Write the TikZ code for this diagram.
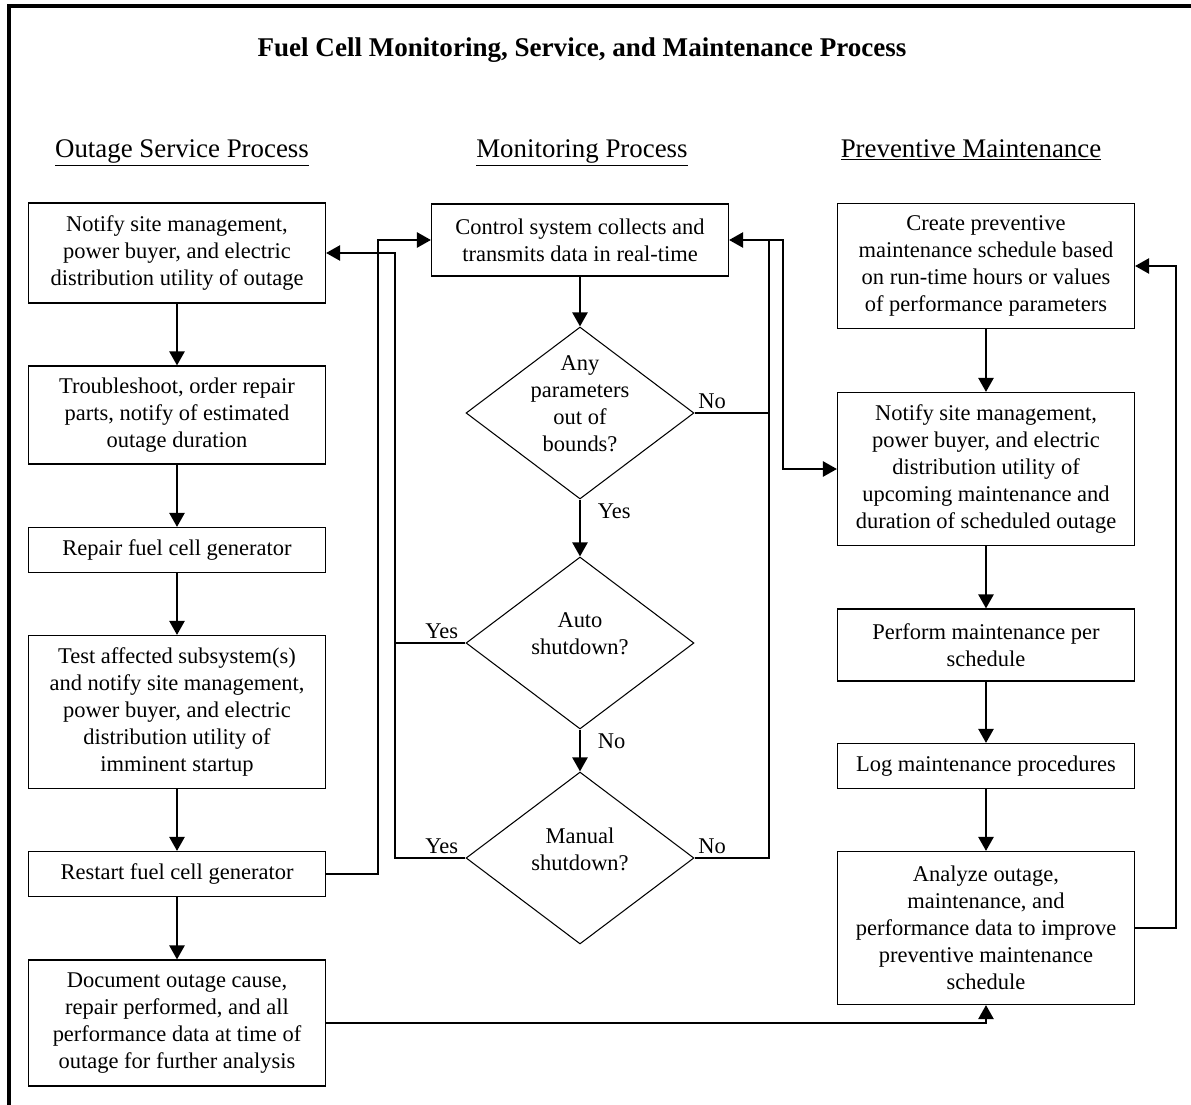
\documentclass[tikz,border=0pt]{standalone}
\usepackage{fontspec}
\setmainfont{Liberation Serif}
\usetikzlibrary{shapes.geometric, arrows.meta, positioning, calc}
\newcommand{\boxfont}{\fontsize{12.8}{15.3}\selectfont}

\begin{document}
\begin{tikzpicture}[
    x=0.02cm, y=-0.02cm,
    >={Triangle[length=8pt, width=8.5pt]},
    procbox/.style={rectangle, draw=black, line width=0.6pt, minimum width=5.94cm,
                    minimum height=#1, inner sep=2pt, align=center, font=\boxfont},
    procbox/.default=0.9cm,
    decision/.style={diamond, draw=black, line width=0.6pt, inner sep=0pt,
                     minimum width=4.56cm, minimum height=3.44cm},
    question/.style={align=center, font=\boxfont, yshift=0.18cm},
    answer/.style={font=\boxfont, inner sep=2pt},
    header/.style={anchor=base, font=\fontsize{15.3}{18}\selectfont},
    flow/.style={line width=1.5pt}
]
\useasboundingbox (0,0) rectangle (1191,1105);
\draw[line width=1.9pt] (1191,6) -- (9,6) -- (9,1105);

\node[anchor=base, font=\fontsize{15.4}{19}\selectfont\bfseries] (title) at (582,57)
    {Fuel Cell Monitoring, Service, and Maintenance Process};
\node[header] (hOutage) at (182,157) {\underline{Outage Service Process}};
\node[header] (hMonitor) at (582,157) {\underline{Monitoring Process}};
\node[header] (hPrevent) at (971,157) {\underline{Preventive Maintenance}};

\node[procbox=2cm] (oNotify) at (177,253)
    {Notify site management,\\power buyer, and electric\\distribution utility of outage};
\node[procbox=1.96cm] (oTrouble) at (177,415)
    {Troubleshoot, order repair\\parts, notify of estimated\\outage duration};
\node[procbox] (oRepair) at (177,550) {Repair fuel cell generator};
\node[procbox=3.06cm] (oTest) at (177,712)
    {Test affected subsystem(s)\\and notify site management,\\power buyer, and electric\\distribution utility of\\imminent startup};
\node[procbox] (oRestart) at (177,874) {Restart fuel cell generator};
\node[procbox=2.52cm] (oDoc) at (177,1023)
    {Document outage cause,\\repair performed, and all\\performance data at time of\\outage for further analysis};

\node[procbox=1.44cm] (mCollect) at (580,240)
    {Control system collects and\\transmits data in real-time};
\node[decision] (mBounds) at (580,413) {};
\node[question] (mBoundsText) at (mBounds) {Any\\parameters\\out of\\bounds?};
\node[decision] (mAuto) at (580,643) {};
\node[question] (mAutoText) at (mAuto) {Auto\\shutdown?};
\node[decision] (mManual) at (580,858) {};
\node[question] (mManualText) at (mManual) {Manual\\shutdown?};

\node[procbox=2.5cm] (pCreate) at (986,266)
    {Create preventive\\maintenance schedule based\\on run-time hours or values\\of performance parameters};
\node[procbox=3.06cm] (pNotify) at (986,469)
    {Notify site management,\\power buyer, and electric\\distribution utility of\\upcoming maintenance and\\duration of scheduled outage};
\node[procbox=1.44cm] (pPerform) at (986,645) {Perform maintenance per\\schedule};
\node[procbox] (pLog) at (986,766) {Log maintenance procedures};
\node[procbox=3.06cm] (pAnalyze) at (986,928)
    {Analyze outage,\\maintenance, and\\performance data to improve\\preventive maintenance\\schedule};

\coordinate (busRestart) at (378,0);
\coordinate (busYes) at (395,0);
\coordinate (busNo) at (769,0);
\coordinate (busPrevent) at (783,0);
\coordinate (busFeedback) at (1176,0);

\foreach \a/\b in {oNotify/oTrouble, oTrouble/oRepair, oRepair/oTest, oTest/oRestart,
                   oRestart/oDoc, mCollect/mBounds, mBounds/mAuto, mAuto/mManual,
                   pCreate/pNotify, pNotify/pPerform, pPerform/pLog, pLog/pAnalyze} {
    \draw[flow, ->] (\a) -- (\b);
}

\draw[flow, ->] (oRestart.east) -- (oRestart.east -| busRestart) |- (mCollect.west);
\draw[flow, ->] (mManual.west) -- (mManual.west -| busYes) |- (oNotify.east);
\draw[flow] (mAuto.west) -- (mAuto.west -| busYes);
\draw[flow, ->] (mManual.east) -- (mManual.east -| busNo) |- (mCollect.east);
\draw[flow] (mBounds.east) -- (mBounds.east -| busNo);
\draw[flow, ->] (mCollect.east -| busNo) -- (mCollect.east -| busPrevent) |- (pNotify.west);
\draw[flow, ->] (pAnalyze.east) -- (pAnalyze.east -| busFeedback) |- (pCreate.east);
\draw[flow, ->] (oDoc.east) -| (pAnalyze.south);

\node[answer, anchor=south west] (noBounds) at (mBounds.east) {No};
\node[answer, anchor=north west, xshift=8pt] (yesBounds) at (mBounds.south) {Yes};
\node[answer, anchor=south east, xshift=-2pt] (yesAuto) at (mAuto.west) {Yes};
\node[answer, anchor=north west, xshift=8pt] (noAuto) at (mAuto.south) {No};
\node[answer, anchor=south east, xshift=-2pt] (yesManual) at (mManual.west) {Yes};
\node[answer, anchor=south west] (noManual) at (mManual.east) {No};
\end{tikzpicture}
\end{document}
